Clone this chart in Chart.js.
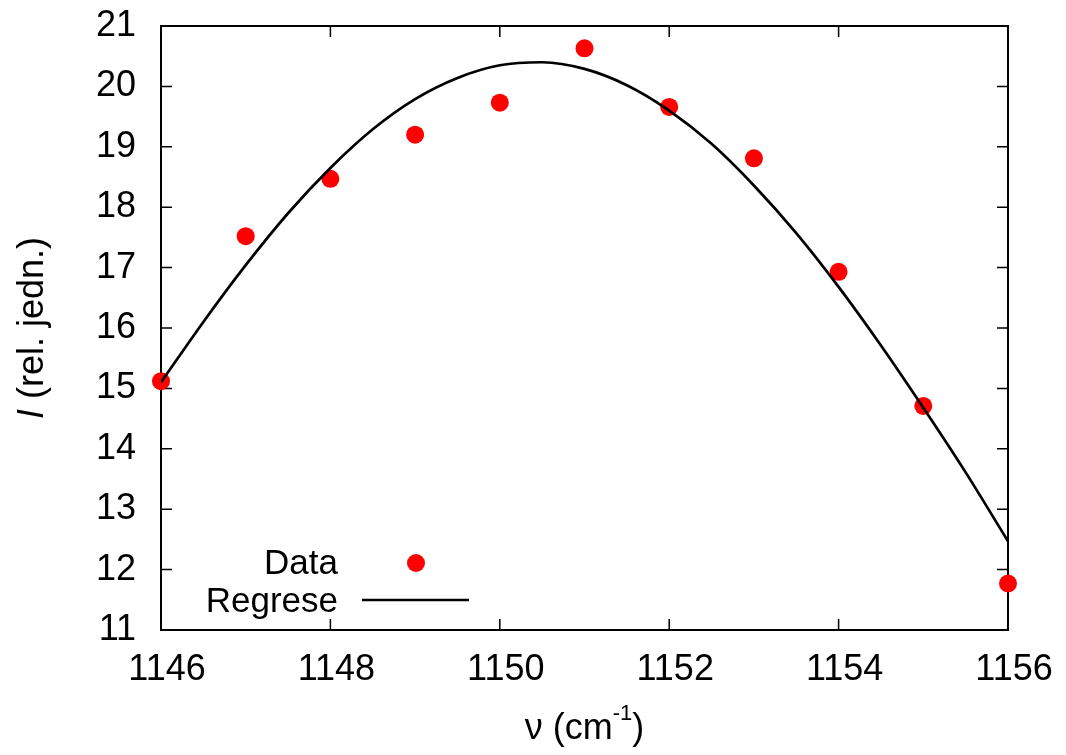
<!DOCTYPE html>
<html>
<head>
<meta charset="utf-8">
<script src="https://cdn.jsdelivr.net/npm/chart.js@4.4.1/dist/chart.umd.min.js"></script>
<style>
html,body{margin:0;padding:0;background:#fff;}
canvas{display:block;}
</style>
</head>
<body>
<canvas id="c" width="1066" height="755"></canvas>
<script>
// Measured data points
const dataX = [1146, 1147, 1148, 1149, 1150, 1151, 1152, 1153, 1154, 1155, 1156];
const dataY = [15.12, 17.52, 18.47, 19.20, 19.73, 20.63, 19.66, 18.81, 16.93, 14.71, 11.77];
// Regression curve
const fitX = [1146, 1146.5, 1147, 1147.5, 1148, 1148.5, 1149, 1149.5, 1150, 1150.5, 1151,
              1151.5, 1152, 1152.5, 1153, 1153.5, 1154, 1154.5, 1155, 1155.5, 1156];
const fitY = [15.10, 16.10, 17.04, 17.90, 18.65, 19.29, 19.79, 20.14, 20.35, 20.40, 20.29,
              20.02, 19.60, 19.05, 18.36, 17.57, 16.68, 15.71, 14.68, 13.61, 12.47];
const xTicks = [1146, 1148, 1150, 1152, 1154, 1156];
const yTicks = [11, 12, 13, 14, 15, 16, 17, 18, 19, 20, 21];
const labels = {data: 'Data', fit: 'Regrese', xTitle: 'ν (cm', xSup: '-1', yItalic: 'I', yRest: ' (rel. jedn.)'};

const FONT = '"Liberation Sans", Arial, sans-serif';

const framePlugin = {
  id: 'frame',
  beforeDatasetsDraw(chart) {
    const {ctx, chartArea: a, scales: {x, y}} = chart;
    ctx.save();
    ctx.strokeStyle = '#000';
    ctx.lineWidth = 1.5;
    const tl = 11;
    ctx.beginPath();
    x.ticks.forEach(t => {
      const px = x.getPixelForValue(t.value);
      ctx.moveTo(px, a.bottom); ctx.lineTo(px, a.bottom - tl);
      ctx.moveTo(px, a.top); ctx.lineTo(px, a.top + tl);
    });
    y.ticks.forEach(t => {
      const py = y.getPixelForValue(t.value);
      ctx.moveTo(a.left, py); ctx.lineTo(a.left + tl, py);
      ctx.moveTo(a.right, py); ctx.lineTo(a.right - tl, py);
    });
    ctx.stroke();
    ctx.lineWidth = 2;
    ctx.strokeRect(a.left, a.top, a.right - a.left, a.bottom - a.top);
    ctx.restore();
  },
  afterDatasetsDraw(chart) {
    const {ctx} = chart;
    const dsData = chart.data.datasets[1];
    const dsFit = chart.data.datasets[0];
    ctx.save();
    ctx.font = '35px ' + FONT;
    ctx.fillStyle = '#000';
    ctx.textAlign = 'right';
    ctx.textBaseline = 'middle';
    ctx.fillText(labels.data, 338, 564);
    ctx.fillText(labels.fit, 338, 602);
    ctx.fillStyle = dsData.backgroundColor;
    ctx.beginPath();
    ctx.arc(416, 563, dsData.pointRadius, 0, Math.PI * 2);
    ctx.fill();
    ctx.strokeStyle = dsFit.borderColor;
    ctx.lineWidth = dsFit.borderWidth;
    ctx.beginPath();
    ctx.moveTo(362, 600); ctx.lineTo(469, 600);
    ctx.stroke();
    ctx.restore();
  },
  afterDraw(chart) {
    const {ctx, chartArea: a} = chart;
    ctx.save();
    ctx.fillStyle = '#000';
    ctx.textBaseline = 'middle';
    // x title
    ctx.font = '36px ' + FONT;
    const w1 = ctx.measureText(labels.xTitle).width;
    ctx.font = '22px ' + FONT;
    const w2 = ctx.measureText(labels.xSup).width;
    ctx.font = '36px ' + FONT;
    const w3 = ctx.measureText(')').width;
    const total = w1 + w2 + w3;
    let sx = (a.left + a.right) / 2 - total / 2;
    ctx.textAlign = 'left';
    ctx.fillText(labels.xTitle, sx, 729);
    ctx.font = '22px ' + FONT;
    ctx.fillText(labels.xSup, sx + w1, 714);
    ctx.font = '36px ' + FONT;
    ctx.fillText(')', sx + w1 + w2, 729);
    // y title
    ctx.translate(33, (a.top + a.bottom) / 2);
    ctx.rotate(-Math.PI / 2);
    ctx.font = 'italic 36px ' + FONT;
    const i1 = ctx.measureText(labels.yItalic).width;
    ctx.font = '36px ' + FONT;
    const i2 = ctx.measureText(labels.yRest).width;
    const st = -(i1 + i2) / 2;
    ctx.font = 'italic 36px ' + FONT;
    ctx.fillText(labels.yItalic, st, 0);
    ctx.font = '36px ' + FONT;
    ctx.fillText(labels.yRest, st + i1, 0);
    ctx.restore();
  }
};

function zeroPad(s) { s.paddingTop = 0; s.paddingBottom = 0; s.paddingLeft = 0; s.paddingRight = 0; }

new Chart(document.getElementById('c'), {
  data: {
    datasets: [
      {
        type: 'line',
        label: labels.fit,
        data: fitX.map((v, i) => ({x: v, y: fitY[i]})),
        borderColor: '#000',
        borderWidth: 2.7,
        pointRadius: 0,
        fill: false,
        cubicInterpolationMode: 'monotone',
        order: 0
      },
      {
        type: 'scatter',
        label: labels.data,
        data: dataX.map((v, i) => ({x: v, y: dataY[i]})),
        backgroundColor: '#ff0000',
        borderWidth: 0,
        pointRadius: 9,
        pointHoverRadius: 9,
        clip: false,
        order: 1
      }
    ]
  },
  options: {
    responsive: false,
    animation: false,
    events: [],
    layout: {padding: {left: 0, top: 26, right: 58, bottom: 0}},
    plugins: {legend: {display: false}, tooltip: {enabled: false}},
    scales: {
      x: {
        type: 'linear', min: 1146, max: 1156,
        grid: {display: false, drawTicks: false},
        border: {display: false},
        afterBuildTicks: s => { s.ticks = xTicks.map(v => ({value: v})); },
        afterFit: s => { s.height = 125; zeroPad(s); },
        ticks: {color: '#000', font: {family: FONT, size: 36}, padding: 18, labelOffset: 6, maxRotation: 0, autoSkip: false,
                callback: v => String(v)}
      },
      y: {
        type: 'linear', min: 11, max: 21,
        grid: {display: false, drawTicks: false},
        border: {display: false},
        afterBuildTicks: s => { s.ticks = yTicks.map(v => ({value: v})); },
        afterFit: s => { s.width = 161; zeroPad(s); },
        ticks: {color: '#000', font: {family: FONT, size: 36}, padding: 25, autoSkip: false,
                callback: v => String(v)}
      }
    }
  },
  plugins: [framePlugin]
});
</script>
</body>
</html>
